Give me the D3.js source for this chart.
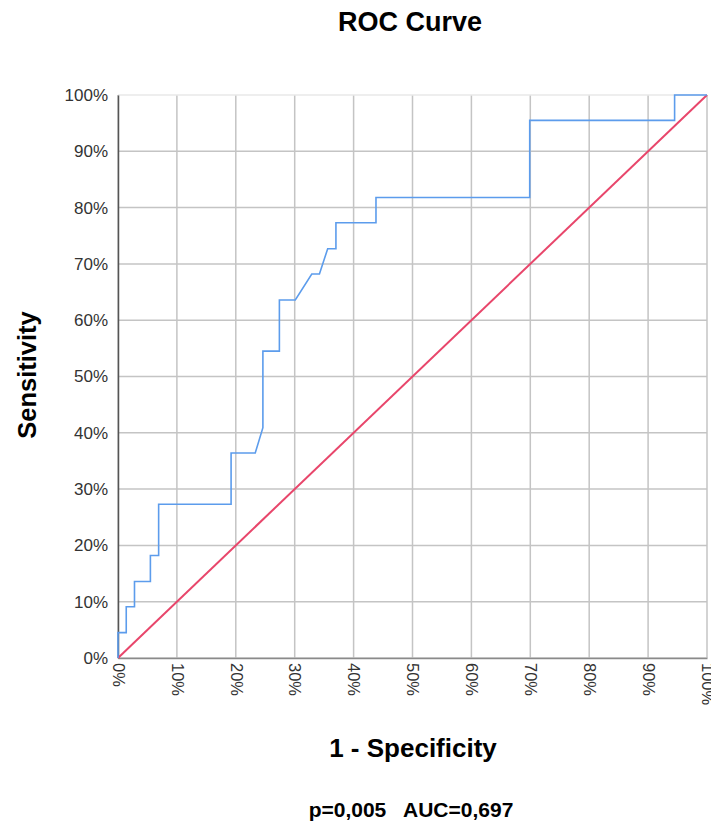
<!DOCTYPE html>
<html>
<head>
<meta charset="utf-8">
<script src="https://cdn.jsdelivr.net/npm/d3@7"></script>
<style>
    body { margin: 0; background: #fff; }
    text { font-family: "Liberation Sans", Arial, sans-serif; }
</style>
</head>
<body>
<div class="graph"></div>
<script>
// ROC curve points (1 - specificity, sensitivity), in %
const fpr = [0, 0, 1.4, 1.4, 2.8, 2.8, 5.5, 5.5, 6.9, 6.9, 19.2, 19.2, 23.3, 24.6, 24.6,
    27.4, 27.4, 30.1, 32.9, 34.2, 35.6, 37.0, 37.0, 43.8, 43.8, 69.9, 69.9, 94.5, 94.5, 100];
const tpr = [0, 4.5, 4.5, 9.1, 9.1, 13.6, 13.6, 18.2, 18.2, 27.3, 27.3, 36.4, 36.4, 40.9, 54.5,
    54.5, 63.6, 63.6, 68.2, 68.2, 72.7, 72.7, 77.3, 77.3, 81.8, 81.8, 95.5, 95.5, 100, 100];
const refLine = [0, 100];
const ticks = [0, 10, 20, 30, 40, 50, 60, 70, 80, 90, 100];

const chartTitle = "ROC Curve";
const xTitle = "1 - Specificity";
const yTitle = "Sensitivity";
const footNote = "p=0,005   AUC=0,697";

const dimensions = {
    width: 711,
    height: 825,
    margins: { top: 95, right: 4, bottom: 167, left: 118 }
};
dimensions.boundedWidth = dimensions.width - dimensions.margins.left - dimensions.margins.right;
dimensions.boundedHeight = dimensions.height - dimensions.margins.top - dimensions.margins.bottom;

const wrapper = d3.select(".graph")
    .append("svg")
        .attr("width", dimensions.width)
        .attr("height", dimensions.height);

const bounds = wrapper.append("g")
    .attr("transform", `translate(${dimensions.margins.left},${dimensions.margins.top})`);

const xScale = d3.scaleLinear().domain([0, 100]).range([0, dimensions.boundedWidth]);
const yScale = d3.scaleLinear().domain([0, 100]).range([dimensions.boundedHeight, 0]);

// grid
bounds.append("g")
    .selectAll("line")
    .data(ticks)
    .join("line")
        .attr("x1", d => xScale(d)).attr("x2", d => xScale(d))
        .attr("y1", 0).attr("y2", dimensions.boundedHeight)
        .attr("stroke", "#c4c4c4").attr("stroke-width", 1.5);
bounds.append("g")
    .selectAll("line")
    .data(ticks)
    .join("line")
        .attr("y1", d => yScale(d)).attr("y2", d => yScale(d))
        .attr("x1", 0).attr("x2", dimensions.boundedWidth)
        .attr("stroke", d => d === 100 ? "#e8e8e8" : "#c4c4c4").attr("stroke-width", 1.5);

// axes
const yAxis = bounds.append("g")
    .call(d3.axisLeft(yScale).tickValues(ticks).tickSize(0).tickPadding(10).tickFormat(d => d + "%"));
yAxis.select(".domain").attr("stroke", "#555").attr("stroke-width", 1.5);
yAxis.selectAll("text")
    .attr("font-size", 17)
    .attr("fill", "#333")
    .attr("font-family", "Liberation Sans, Arial, sans-serif");

const xAxis = bounds.append("g")
    .attr("transform", `translate(0,${dimensions.boundedHeight})`)
    .call(d3.axisBottom(xScale).tickValues(ticks).tickSize(0).tickPadding(0).tickFormat(d => d + "%"));
xAxis.select(".domain").attr("stroke", "#8a8a8a").attr("stroke-width", 1.5);
xAxis.selectAll("text")
    .attr("font-size", 16.5)
    .attr("fill", "#333")
    .attr("font-family", "Liberation Sans, Arial, sans-serif")
    .attr("text-anchor", "start")
    .attr("transform", "rotate(90)")
    .attr("x", 5)
    .attr("y", 0)
    .attr("dy", "0.35em");

// reference diagonal
const lineGenerator = d3.line()
    .x(d => xScale(d[0]))
    .y(d => yScale(d[1]));

bounds.append("path")
    .attr("d", lineGenerator(refLine.map(v => [v, v])))
    .attr("fill", "none")
    .attr("stroke", "#e8466b")
    .attr("stroke-width", 2);

// ROC curve
bounds.append("path")
    .attr("d", lineGenerator(fpr.map((v, i) => [v, tpr[i]])))
    .attr("fill", "none")
    .attr("stroke", "#5c9cec")
    .attr("stroke-width", 1.6);

// titles
wrapper.append("text")
    .attr("x", 410).attr("y", 31)
    .attr("text-anchor", "middle")
    .attr("font-size", 27).attr("font-weight", "bold")
    .text(chartTitle);

wrapper.append("text")
    .attr("x", 413).attr("y", 757)
    .attr("text-anchor", "middle")
    .attr("font-size", 26).attr("font-weight", "bold")
    .text(xTitle);

wrapper.append("text")
    .attr("transform", "translate(36,375) rotate(-90)")
    .attr("text-anchor", "middle")
    .attr("font-size", 25.5).attr("font-weight", "bold")
    .text(yTitle);

wrapper.append("text")
    .attr("x", 411).attr("y", 817)
    .attr("text-anchor", "middle")
    .attr("font-size", 21).attr("font-weight", "bold")
    .attr("xml:space", "preserve")
    .style("white-space", "pre")
    .text(footNote);
</script>
</body>
</html>
